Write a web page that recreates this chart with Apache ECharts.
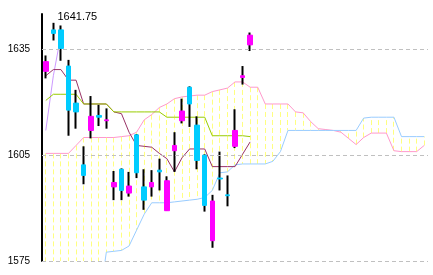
<!DOCTYPE html>
<html><head><meta charset="utf-8">
<script src="https://cdn.jsdelivr.net/npm/echarts@6/dist/echarts.min.js"></script>
<style>html,body{margin:0;padding:0;background:#fff}#c{width:433px;height:275px}</style>
</head><body><div id="c"></div>
<script>
// ---- data ----
const categories = Array.from({length: 51}, (_, i) => String(i + 1));
const opens  = [1628.75,1640.5,1640.5,1630.25,1619.75,1602.25,1612,1616.25,1614.75,1596,1601,1594.25,1610.75,1596,1596,1600.75,1589.25,1606.25,1614.75,1624.25,1613.5,1605,1580.75,1598.5,1593.75,1607.5,1627,1636.25];
const closes = [1631.5,1639.5,1635.25,1617.75,1617.25,1599.25,1616,1615.75,1615,1597.25,1595,1596.25,1600,1592.25,1597.25,1600.25,1597.75,1607.75,1617.5,1619.5,1603.5,1590.75,1592,1598.25,1593.5,1612,1627.5,1639];
const lows   = [1626.75,1637.5,1631.75,1610.5,1612.5,1596.75,1609.75,1613.25,1612.5,1592.25,1592.25,1593.25,1598.5,1589.5,1593.25,1595,1589.25,1600.25,1614,1613,1601,1589,1578.75,1595,1590.5,1607,1625,1634.5];
const highs  = [1633.25,1642.5,1641.75,1632,1623.5,1607.5,1621.75,1619.25,1618.25,1600.5,1601.25,1600.25,1611,1601,1600.75,1604,1599,1611.5,1621,1624.5,1616,1605.25,1593.75,1606,1599.25,1618,1630.25,1639.75];
const tenkan = [1627.5,1629.25,1629.25,1626.25,1626.25,1619.5,1619.5,1619.5,1619.5,1617.25,1616.75,1611.5,1607.75,1607.5,1607.25,1605.5,1604,1600.25,1604.25,1606.75,1606.75,1606.75,1601.75,1601.75,1601.75,1601.75,1605.25,1608.75];
const kijun  = [1620.5,1622.25,1622.25,1622.25,1622.25,1619.5,1619.5,1619.5,1619.5,1617.25,1617.25,1617.25,1617.25,1617.25,1617.25,1617.25,1615.75,1615.75,1615.75,1615.75,1615.75,1615.75,1610.5,1610.5,1610.5,1610.5,1610.5,1610.25];
const chikou = [1612,1627.5,1639];
const senkouA = [1605.5,1605.5,1605.5,1605.5,1607.75,1610,1610,1610,1610,1610,1610.25,1610.5,1611.5,1615,1616.5,1618.5,1619.5,1621,1621.5,1621.75,1622,1622,1623,1623.5,1624,1625.75,1625.75,1624.25,1624.25,1619.5,1619.5,1619.5,1619.5,1617.25,1617,1614.5,1612.5,1612.25,1612,1611.5,1609.75,1608,1610,1611.25,1611.25,1611.25,1606.25,1606,1606,1606,1607.75];
const senkouB = [1562.5,1562.5,1562.5,1562.5,1562.5,1562.5,1562.5,1562.5,1577.5,1577.75,1578,1579.25,1583.75,1588.25,1591.5,1591.5,1591.5,1591.75,1592,1592.25,1592.5,1593,1595,1600,1600.25,1602.25,1602.5,1602.5,1602.5,1602.5,1603.25,1606,1612,1612,1612,1612,1612,1612,1612,1612,1612,1612,1615.5,1615.75,1615.75,1615.75,1615.75,1610.25,1610.25,1610.25,1610.25];
const yTickLabels = [1575, 1605, 1635];
const yMin = 1575, yMax = 1645;
const highLabelIndex = 2, highLabelValue = 1641.75;

// ---- derived tables ----
const ohlc = opens.map((o, i) => [o, closes[i], lows[i], highs[i]]);
const bodies = opens.map((o, i) => [o, closes[i], Math.min(o, closes[i]), Math.max(o, closes[i])]);
const cloud = senkouA.map((a, i) => [i, a, senkouB[i]]);

const chart = echarts.init(document.getElementById('c'), null, {renderer: 'canvas'});
const crisp = v => Math.round(v - 0.5) + 0.5;
chart.setOption({
  animation: false,
  backgroundColor: '#fff',
  grid: {left: 42, right: 5, top: 14, bottom: 14},
  xAxis: {type: 'category', data: categories, boundaryGap: true, show: false},
  yAxis: {
    type: 'value', min: yMin, max: yMax, interval: 5,
    axisLine: {show: true, lineStyle: {color: '#000', width: 2}},
    axisTick: {show: false},
    splitLine: {show: false},
    axisLabel: {
      color: '#000', fontSize: 10, fontFamily: 'Liberation Sans, Arial, sans-serif', margin: 12,
      formatter: v => yTickLabels.includes(v) ? String(v) : ''
    }
  },
  series: [
    {
      type: 'custom', name: 'cloud', clip: true, z: 1, silent: true,
      data: cloud,
      encode: {x: 0, y: [1, 2]},
      renderItem: (params, api) => {
        const p1 = api.coord([api.value(0), api.value(1)]);
        const p2 = api.coord([api.value(0), api.value(2)]);
        const x = crisp(p1[0]);
        return {type: 'line', shape: {x1: x, y1: p1[1], x2: x, y2: p2[1]},
          style: {stroke: '#ffff80', lineWidth: 1, lineDash: [5, 3]}};
      }
    },
    {
      type: 'line', name: 'senkouA', data: senkouA, symbol: 'none', z: 2, silent: true,
      lineStyle: {color: '#ff99cc', width: 1}
    },
    {
      type: 'line', name: 'senkouB', data: senkouB, symbol: 'none', z: 2, silent: true,
      lineStyle: {color: '#99ccff', width: 1},
      markLine: {
        silent: true, symbol: ['none', 'none'], label: {show: false},
        lineStyle: {color: '#c0c0c0', type: [4, 3], width: 1},
        data: yTickLabels.map(v => ({yAxis: v}))
      }
    },
    {
      type: 'line', name: 'chikou', data: chikou, symbol: 'none', z: 3, silent: true,
      lineStyle: {color: '#cc99ff', width: 1}
    },
    {
      type: 'line', name: 'tenkan', data: tenkan, symbol: 'none', z: 3, silent: true,
      lineStyle: {color: '#993366', width: 1}
    },
    {
      type: 'line', name: 'kijun', data: kijun, symbol: 'none', z: 3, silent: true,
      lineStyle: {color: '#99cc00', width: 1}
    },
    {
      type: 'candlestick', name: 'wicks', data: ohlc, z: 4, silent: true, barWidth: 1,
      itemStyle: {color: '#000', color0: '#000', borderColor: '#000', borderColor0: '#000', borderWidth: 2}
    },
    {
      type: 'candlestick', name: 'bodies', data: bodies, z: 5, silent: true, barWidth: 5,
      itemStyle: {color: '#ff00ff', color0: '#00ccff', borderColor: '#ff00ff', borderColor0: '#00ccff', borderWidth: 1},
      markPoint: {
        silent: true, symbol: 'rect', symbolSize: 1,
        itemStyle: {color: 'rgba(0,0,0,0)'},
        label: {show: true, position: [-3, -8], align: 'left', verticalAlign: 'middle',
          color: '#000', fontSize: 11, fontFamily: 'Liberation Sans, Arial, sans-serif',
          formatter: p => String(p.value)},
        data: [{coord: [highLabelIndex, highLabelValue], value: highLabelValue}]
      }
    }
  ]
});
</script>
</body></html>
